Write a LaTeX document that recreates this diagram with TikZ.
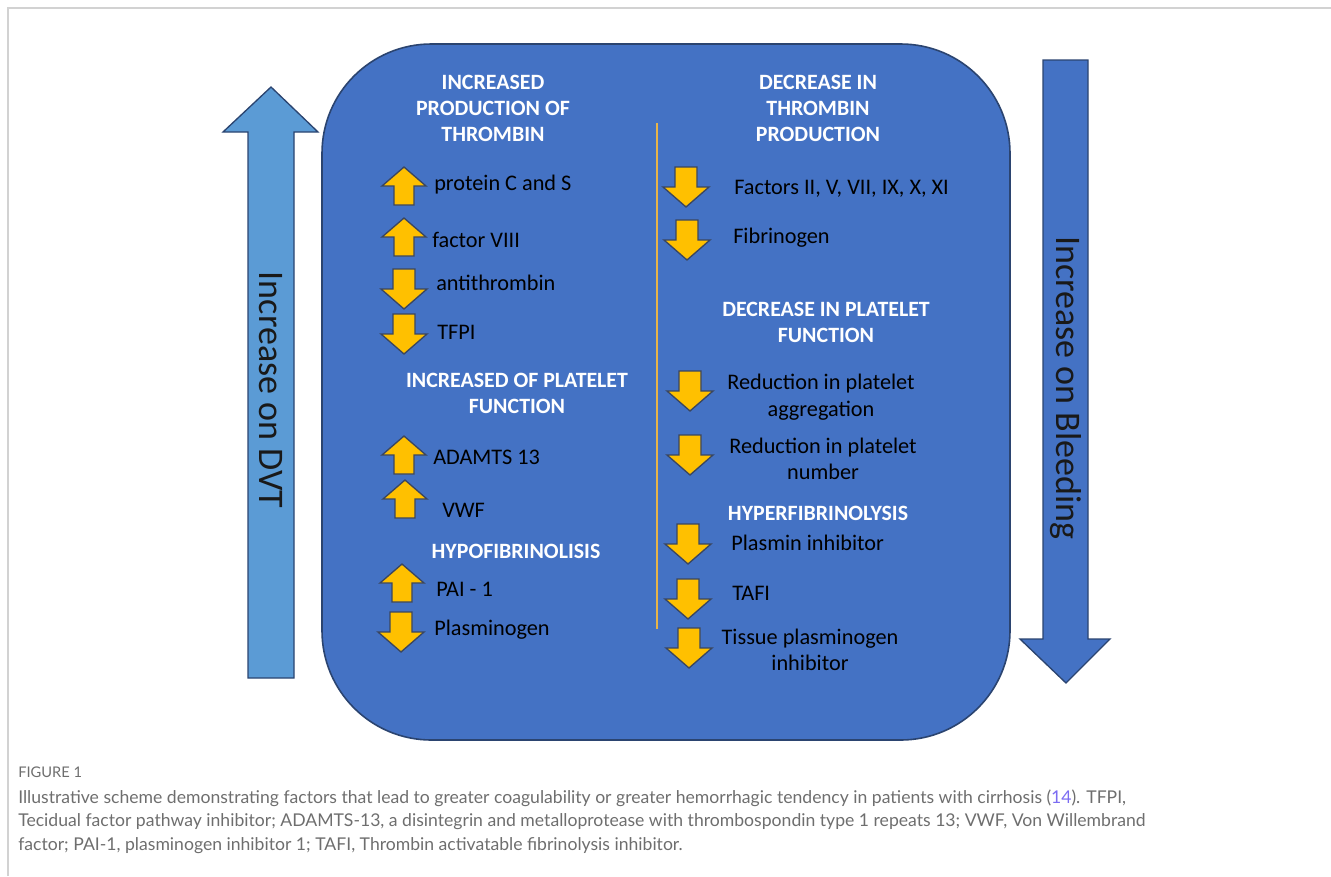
\documentclass[tikz,border=0pt]{standalone}
\usepackage{fontspec}
\setmainfont{Carlito}
\newfontfamily\capfont{Lato}
\usetikzlibrary{calc}
\definecolor{boxblue}{HTML}{4472C4}
\definecolor{boxedge}{HTML}{2B4470}
\definecolor{dvtblue}{HTML}{5B9BD5}
\definecolor{arrgold}{HTML}{FFC000}
\definecolor{arredge}{HTML}{3A4660}
\definecolor{divline}{HTML}{E8B448}
\definecolor{capgray}{HTML}{6E6E6E}
\definecolor{refblue}{HTML}{7B6CF2}
\definecolor{framegray}{HTML}{D2D2D2}
\tikzstyle{MainBox}=[fill=boxblue, draw=boxedge, line width=1.2pt, rounded corners=82pt]
\tikzstyle{DvtArrow}=[fill=dvtblue, draw=boxedge, line width=1pt]
\tikzstyle{BleedArrow}=[fill=boxblue, draw=boxedge, line width=1pt]
\tikzstyle{GoldArrow}=[fill=arrgold, draw=arredge, line width=1pt, line join=miter]
\tikzstyle{HeadNode}=[align=center, text=white, inner sep=0pt, font=\bfseries\fontsize{16.4}{19.5}\selectfont]
\tikzstyle{ItemNode}=[anchor=west, inner sep=0pt, text=black, font=\fontsize{16.7}{20}\selectfont]
\tikzstyle{PairNode}=[ItemNode, anchor=center, align=center]
\tikzstyle{SideNode}=[rotate=-90, inner sep=0pt, text=black!90, font=\fontsize{27}{30}\selectfont]
\tikzstyle{CapNode}=[anchor=west, inner sep=0pt, text=capgray, font=\capfont\fontsize{13.2}{18}\selectfont]
\tikzstyle{FrameLine}=[draw=framegray, line width=1.4pt]
\tikzset{>=latex}
\tikzset{
  UpMark/.pic={\path[GoldArrow] (0,-19) -- (22,0) -- (10,0) -- (10,19) -- (-10,19) -- (-10,0) -- (-22,0) -- cycle;},
  DownMark/.pic={\path[GoldArrow] (0,20) -- (23,0) -- (11,0) -- (11,-20) -- (-11,-20) -- (-11,0) -- (-23,0) -- cycle;}
}

\begin{document}
\begin{tikzpicture}[x=0.75pt, y=-0.75pt]
\useasboundingbox (0,0) rectangle (1331,876);
\draw[FrameLine] (8,876) -- (8,8) -- (1331,8);

\draw[MainBox] (322,44) rectangle (1010,740);
\draw[DvtArrow] (271,87) -- (318,132) -- (294,132) -- (294,678) -- (248,678) -- (248,132) -- (223,132) -- cycle;
\draw[BleedArrow] (1043,60) -- (1088,60) -- (1088,639) -- (1110,639) -- (1066,683) -- (1020,639) -- (1043,639) -- cycle;
\node[SideNode](DVT) at (271,390) {Increase on DVT};
\node[SideNode](BLEED) at (1066,388) {Increase on Bleeding};

\coordinate (DivTop) at (657,123);
\coordinate (DivBot) at (657,629);
\draw[divline, line width=0.9pt] (DivTop) -- (DivBot);

\node[HeadNode](HD1) at (493,108) {INCREASED\\PRODUCTION OF\\THROMBIN};
\node[HeadNode](HD2) at (818,108) {DECREASE IN\\THROMBIN\\PRODUCTION};
\node[HeadNode](HD3) at (517,393) {INCREASED OF PLATELET\\FUNCTION};
\node[HeadNode](HD4) at (516,551) {HYPOFIBRINOLISIS};
\node[HeadNode](HD5) at (826,322) {DECREASE IN PLATELET\\FUNCTION};
\node[HeadNode](HD6) at (818,513) {HYPERFIBRINOLYSIS};

\pic (UP1) at (404,186) {UpMark};
\node[ItemNode](PROTC) at (434,185) {protein C and S};
\pic (UP2) at (404,237) {UpMark};
\node[ItemNode](FVIII) at (432,240) {factor VIII};
\pic (DN1) at (404,289) {DownMark};
\node[ItemNode](ANTI) at (436,283) {antithrombin};
\pic (DN2) at (404,334) {DownMark};
\node[ItemNode](TFPI) at (437,332) {TFPI};
\pic (UP3) at (404,455) {UpMark};
\node[ItemNode](ADAM) at (433,457) {ADAMTS 13};
\pic (UP4) at (405,499) {UpMark};
\node[ItemNode](VWF) at (442,510) {VWF};
\pic (UP5) at (402,583) {UpMark};
\node[ItemNode](PAI) at (436,589) {PAI - 1};
\pic (DN3) at (401,632) {DownMark};
\node[ItemNode](PLSG) at (434,630) {Plasminogen};

\pic (DN4) at (686,187) {DownMark};
\node[ItemNode](FACT) at (734,189) {Factors II, V, VII, IX, X, XI};
\pic (DN5) at (687,240) {DownMark};
\node[ItemNode](FIBR) at (733,238) {Fibrinogen};
\pic (DN6) at (690,391) {DownMark};
\node[PairNode](AGGR) at (821,397) {Reduction in platelet\\aggregation};
\pic (DN7) at (690,455) {DownMark};
\node[PairNode](NUMB) at (823,459) {Reduction in platelet\\number};
\pic (DN8) at (688,544) {DownMark};
\node[ItemNode](PLIN) at (731,543) {Plasmin inhibitor};
\pic (DN9) at (688,599) {DownMark};
\node[ItemNode](TAFI) at (732,593) {TAFI};
\pic (DN10) at (689,648) {DownMark};
\node[PairNode](TISS) at (810,650) {Tissue plasminogen\\inhibitor};

\node[CapNode, font=\capfont\fontsize{11}{13}\selectfont](FIG) at (18,772) {FIGURE 1};
\node[CapNode](CAP1) at (18,798) {Illustrative scheme demonstrating factors that lead to greater coagulability or greater hemorrhagic tendency in patients with cirrhosis (\textcolor{refblue}{14}). TFPI,};
\node[CapNode](CAP2) at (18,822) {Tecidual factor pathway inhibitor; ADAMTS-13, a disintegrin and metalloprotease with thrombospondin type 1 repeats 13; VWF, Von Willembrand};
\node[CapNode](CAP3) at (18,846) {factor; PAI-1, plasminogen inhibitor 1; TAFI, Thrombin activatable fibrinolysis inhibitor.};
\end{tikzpicture}
\end{document}
